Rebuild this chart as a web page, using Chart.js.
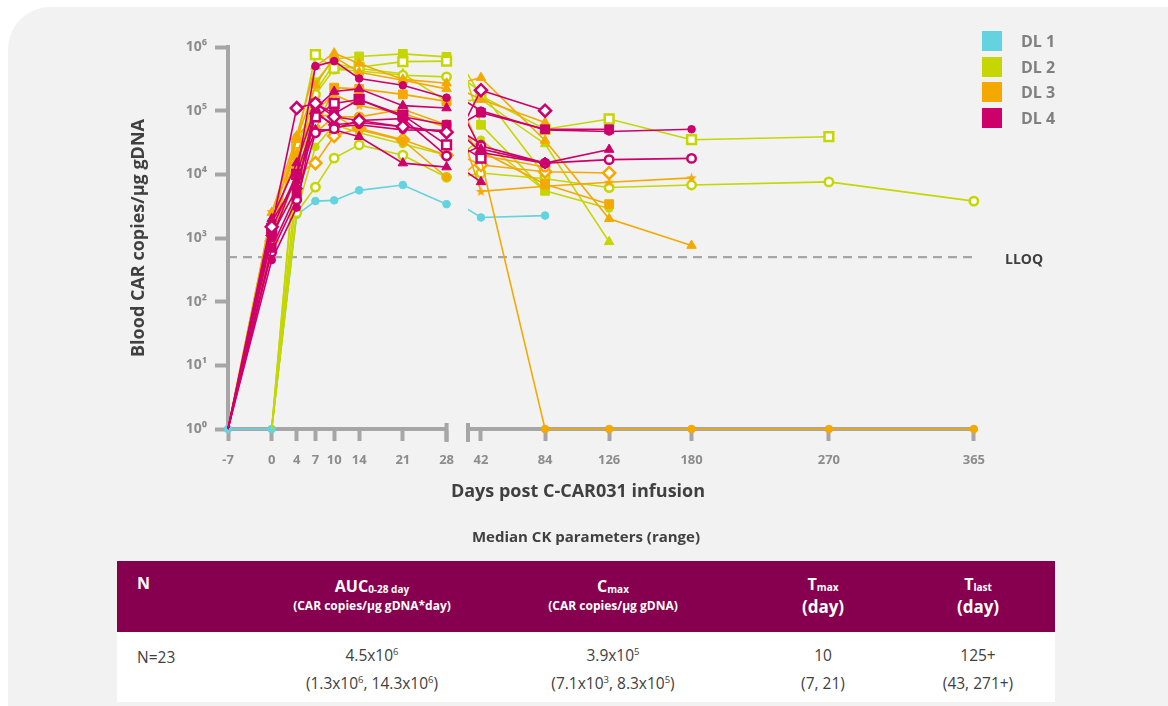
<!DOCTYPE html>
<html>
<head>
<meta charset="utf-8">
<script src="https://cdn.jsdelivr.net/npm/chart.js@4.4.1/dist/chart.umd.min.js"></script>
<style>
html,body{margin:0;padding:0;background:#fff;width:1168px;height:706px;overflow:hidden;font-family:'Open Sans',sans-serif}
#panel{position:absolute;left:8px;top:7px;width:1200px;height:720px;background:#f2f2f2;border-top-left-radius:42px}
#cL{position:absolute;left:0;top:0}
#cR{position:absolute;left:458px;top:0}
#legend{position:absolute;left:982px;top:28px}
#legend .row{height:25.7px;display:flex;align-items:center;font-weight:700;font-size:16px;color:#808080}
#legend .sw{display:inline-block;width:20px;height:20px;margin-right:19px}
#lloq{position:absolute;left:1005px;top:249px;font-weight:700;font-size:14px;color:#404040}
#xtitle{position:absolute;left:578px;top:478px;transform:translateX(-50%);font-weight:700;font-size:18px;color:#404040;white-space:nowrap}
#ttitle{position:absolute;left:586px;top:526px;transform:translateX(-50%);font-weight:700;font-size:15px;color:#404040;white-space:nowrap}
#tbl{position:absolute;left:117px;top:561px;width:938px;height:141px}
#tbl .hd{position:absolute;left:0;top:0;width:938px;height:71px;background:#86004f}
#tbl .bd{position:absolute;left:0;top:71px;width:938px;height:70px;background:#fff}
.col{position:absolute;transform:translateX(-50%);text-align:center;white-space:nowrap}
.h1{color:#fff;font-weight:700;font-size:16px;line-height:21px}
.h2{color:#fff;font-weight:700;font-size:12px;line-height:18px}
.h3{color:#fff;font-weight:700;font-size:17px;line-height:24px}
.b{color:#404040;font-size:15.5px;line-height:28px}
sub{font-size:10px;vertical-align:-1px;line-height:0}
sup{font-size:9.5px;vertical-align:6px;line-height:0}
</style>
</head>
<body>
<div id="panel"></div>
<canvas id="cL" width="465" height="480"></canvas>
<canvas id="cR" width="538" height="480"></canvas>
<div id="legend"></div>
<div id="lloq">LLOQ</div>
<div id="xtitle">Days post C-CAR031 infusion</div>
<div id="ttitle">Median CK parameters (range)</div>
<div id="tbl">
  <div class="hd"></div>
  <div class="bd"></div>
  <div class="h1" style="position:absolute;left:20px;top:12px">N</div>
  <div class="col" style="left:255px;top:15px"><div class="h1">AUC<sub>0-28 day</sub></div><div class="h2">(CAR copies/µg gDNA*day)</div></div>
  <div class="col" style="left:496px;top:15px"><div class="h1">C<sub>max</sub></div><div class="h2">(CAR copies/µg gDNA)</div></div>
  <div class="col" style="left:706px;top:13px"><div class="h1">T<sub>max</sub></div><div class="h3">(day)</div></div>
  <div class="col" style="left:861px;top:13px"><div class="h1">T<sub>last</sub></div><div class="h3">(day)</div></div>
  <div class="b" style="position:absolute;left:20px;top:82px">N=23</div>
  <div class="col" style="left:255px;top:80px"><div class="b">4.5x10<sup>6</sup></div><div class="b">(1.3x10<sup>6</sup>, 14.3x10<sup>6</sup>)</div></div>
  <div class="col" style="left:496px;top:80px"><div class="b">3.9x10<sup>5</sup></div><div class="b">(7.1x10<sup>3</sup>, 8.3x10<sup>5</sup>)</div></div>
  <div class="col" style="left:706px;top:80px"><div class="b">10</div><div class="b">(7, 21)</div></div>
  <div class="col" style="left:861px;top:80px"><div class="b">125+</div><div class="b">(43, 271+)</div></div>
</div>
<script>
'use strict';

// ── data ───────────────────────────────────────────────────────────────────
const DAYS = [-7, 0, 4, 7, 10, 14, 21, 28, 42, 84, 126, 180, 270, 365];
const LEFT_TICKS = [-7, 0, 4, 7, 10, 14, 21, 28];
const RIGHT_TICKS = [42, 84, 126, 180, 270, 365];
const Y_TICKS = [1, 10, 100, 1000, 10000, 100000, 1000000];
const Y_LABELS = ['10⁰', '10¹', '10²', '10³', '10⁴', '10⁵', '10⁶'];
const LLOQ = 500;
const DL_NAMES = ['DL 1', 'DL 2', 'DL 3', 'DL 4'];
const DL_COLORS = ['#63d3df', '#c5d600', '#f4a900', '#cd006b'];

// one row per patient, one value per entry of DAYS (null = no sample)
const dl1Values = [
  [1, 1, 2300, 3800, 3900, 5600, 6800, 3400, 2100, 2250, null, null, null, null]
];
const dl1Markers = ['circle'];

const dl2Values = [
  [null, 1, 30000, 760000, 460000, 480000, 590000, 600000, 170000, 51000, 74000, 35000, 39000, null],
  [null, 1, 9000, 280000, 650000, 710000, 780000, 700000, 60000, 5500, null, null, null, null],
  [null, 1, 25000, 180000, 450000, 420000, 360000, 340000, 200000, 9500, null, null, null, null],
  [null, 1, 2500, 6300, 18000, 29000, 20000, 9000, 10500, 8500, 6200, 6800, 7600, 3800],
  [null, 1, 2600, 27000, 60000, 45000, 30000, 20000, 35000, 5500, 2900, null, null, null],
  [null, 1, 5000, 200000, 550000, 460000, 380000, 140000, 150000, 30000, 870, null, null, null]
];
const dl2Markers = ['rectOpen', 'rect', 'circleOpen', 'circleOpen', 'circle', 'triangle'];

const dl3Values = [
  [1, 2500, 40000, 500000, 800000, 550000, 310000, 270000, 330000, 34000, 2000, 760, null, null],
  [1, 1500, 20000, 50000, 230000, 220000, 180000, 140000, 23000, 7000, 3400, null, null, null],
  [1, 2600, 22000, 100000, 180000, 120000, 90000, 55000, 5400, 6500, 7500, 8800, null, null],
  [1, 800, 39000, 82000, 85000, 50000, 34000, 9000, 17000, 1, 1, 1, 1, 1],
  [1, 1200, 10000, 45000, 80000, 80000, 105000, 60000, 20000, 13000, null, null, null, null],
  [1, 900, 10000, 15000, 40000, 53000, 35000, 20000, 14000, 11000, 10500, null, null, null],
  [1, 1800, 35000, 250000, 700000, 400000, 300000, 220000, 150000, 65000, null, null, null, null]
];
const dl3Markers = ['triangle', 'rect', 'star', 'circle', 'circleOpen', 'diamondOpen', 'triangle'];

const dl4Values = [
  [1, 1500, 110000, 130000, 80000, 70000, 56000, 46000, 210000, 100000, null, null, null, null],
  [1, 1000, 10000, 500000, 600000, 320000, 250000, 160000, 100000, 50000, 47000, 51000, null, null],
  [1, 700, 5000, 130000, 90000, 150000, 80000, 60000, 93000, 51000, 51000, null, null, null],
  [1, 2000, 15000, 110000, 200000, 220000, 120000, 110000, 25000, 15000, 24500, null, null, null],
  [1, 1400, 10000, 80000, 130000, 150000, 85000, 29000, 18000, null, null, null, null, null],
  [1, 600, 4000, 45000, 52000, 70000, 75000, 19500, 28000, 15000, 17000, 17800, null, null],
  [1, 1100, 6000, 90000, 60000, 65000, 56000, 46000, 22000, 15000, null, null, null, null],
  [1, 1800, 8000, 50000, 50000, 39000, 15000, 13000, 7600, null, null, null, null, null],
  [1, 450, 3000, 100000, 55000, 60000, 50000, 49000, 30000, null, null, null, null, null]
];
const dl4Markers = ['diamondOpen', 'circle', 'rect', 'triangle', 'rectOpen', 'circleOpen', 'diamond', 'triangle', 'circle'];

// ── look ───────────────────────────────────────────────────────────────────
const AXIS = '#a6a6a6', TICK = '#8c8c8c', DARK = '#404040';
const LEFT_MIN = -7, LEFT_MAX = 28, RIGHT_MIN = 33.5, RIGHT_MAX = 365;
Chart.defaults.font.family = "'Open Sans', sans-serif";

function starImg(color){
  const c = document.createElement('canvas'); c.width = 11; c.height = 11;
  const g = c.getContext('2d'); g.fillStyle = color; g.beginPath();
  for (let i = 0; i < 10; i++){
    const r = i % 2 ? 2.3 : 5.5, a = -Math.PI/2 + i*Math.PI/5;
    g.lineTo(5.5 + r*Math.cos(a), 5.8 + r*Math.sin(a));
  }
  g.closePath(); g.fill();
  return c;
}

function markerStyle(kind, color){
  const filled = {pointBackgroundColor: color, pointBorderColor: color, pointBorderWidth: 1};
  const open = {pointBackgroundColor: '#ffffff', pointBorderColor: color, pointBorderWidth: 2.5};
  switch (kind){
    case 'circle':      return {pointStyle: 'circle', pointRadius: 3.8, ...filled};
    case 'circleOpen':  return {pointStyle: 'circle', pointRadius: 4.2, ...open};
    case 'rect':        return {pointStyle: 'rect', pointRadius: 6.2, ...filled};
    case 'rectOpen':    return {pointStyle: 'rect', pointRadius: 6.2, ...open};
    case 'triangle':    return {pointStyle: 'triangle', pointRadius: 5.5, ...filled};
    case 'diamond':     return {pointStyle: 'rectRot', pointRadius: 6, ...filled};
    case 'diamondOpen': return {pointStyle: 'rectRot', pointRadius: 6, ...open};
    case 'star':        return {pointStyle: starImg(color), pointRadius: 5.5, ...filled};
  }
}

function seriesPoints(vals, keep){
  return DAYS.map((d, i) => ({x: d, y: vals[i]})).filter(p => p.y != null && keep(p.x));
}

function buildDatasets(keep, lloqFrom, lloqTo, clip){
  const groups = [[dl4Values, dl4Markers, 3], [dl3Values, dl3Markers, 2], [dl2Values, dl2Markers, 1], [dl1Values, dl1Markers, 0]];
  const sets = [];
  groups.forEach(([vals, marks, dl]) => {
    vals.forEach((v, i) => {
      const st = markerStyle(marks[i], DL_COLORS[dl]);
      const r = st.pointRadius;
      // pre-dose baseline points (1 copy) only carry a marker for DL 1
      st.pointRadius = c => (dl > 0 && c.raw && c.raw.x <= 0 && c.raw.y === 1) ? 0 : r;
      sets.push({data: seriesPoints(v, keep), borderColor: DL_COLORS[dl], borderWidth: 1.6,
        tension: 0, clip, ...st});
    });
  });
  sets.push({data: [{x: lloqFrom, y: LLOQ}, {x: lloqTo, y: LLOQ}], borderColor: '#a6a6a6',
    borderWidth: 2.2, borderDash: [9, 6], pointRadius: 0, clip: false});
  return sets;
}

const breakMark = {
  id: 'breakMark',
  afterDraw(chart, args, opts){
    const {ctx, chartArea} = chart;
    const x = opts.side === 'right' ? chartArea.right : chartArea.left;
    ctx.save(); ctx.strokeStyle = AXIS; ctx.lineWidth = 4;
    ctx.beginPath(); ctx.moveTo(x, chartArea.bottom - 6); ctx.lineTo(x, chartArea.bottom + 13); ctx.stroke();
    ctx.restore();
  }
};

function xScale(min, max, ticks){
  return {type: 'linear', min, max,
    afterBuildTicks: s => { s.ticks = ticks.map(v => ({value: v})); },
    afterFit: s => { s.height = 51; },
    grid: {drawOnChartArea: false, tickLength: 12, tickWidth: 4, tickColor: AXIS},
    border: {width: 4, color: AXIS},
    ticks: {color: TICK, font: {size: 13, weight: 'bold'}, padding: 11, autoSkip: false, maxRotation: 0}};
}

function yScale(show){
  return {type: 'logarithmic', min: 1, max: 1000000, display: show,
    afterBuildTicks: s => { s.ticks = Y_TICKS.map(v => ({value: v})); },
    afterFit: s => { if (show) s.width = 104; },
    grid: {drawOnChartArea: false, tickLength: 13, tickWidth: 4, tickColor: AXIS},
    border: {width: 4, color: AXIS},
    ticks: {color: TICK, font: {size: 14, weight: 'bold'}, padding: 8, autoSkip: false,
      callback: v => Y_LABELS[Math.round(Math.log10(v))]},
    title: {display: true, text: 'Blood CAR copies/µg gDNA', color: DARK, font: {size: 18, weight: 'bold'}, padding: {top: 4, bottom: 0}}};
}

const common = {responsive: false, animation: false, events: [],
  plugins: {legend: {display: false}, tooltip: {enabled: false}}};

new Chart(document.getElementById('cL'), {
  type: 'line',
  data: {datasets: buildDatasets(d => d <= LEFT_MAX, LEFT_MIN, LEFT_MAX, false)},
  options: {...common, layout: {padding: {left: 124, top: 47, right: 14, bottom: 0}},
    plugins: {...common.plugins, breakMark: {side: 'right'}},
    scales: {x: xScale(LEFT_MIN, LEFT_MAX, LEFT_TICKS), y: yScale(true)}},
  plugins: [breakMark]
});

new Chart(document.getElementById('cR'), {
  type: 'line',
  data: {datasets: buildDatasets(d => d >= LEFT_MAX, RIGHT_MIN, RIGHT_MAX, {left: 0, top: false, right: false, bottom: false})},
  options: {...common, layout: {padding: {left: 10, top: 47, right: 20, bottom: 0}},
    plugins: {...common.plugins, breakMark: {side: 'left'}},
    scales: {x: xScale(RIGHT_MIN, RIGHT_MAX, RIGHT_TICKS), y: yScale(false)}},
  plugins: [breakMark]
});

// legend
const leg = document.getElementById('legend');
DL_NAMES.forEach((n, i) => {
  const r = document.createElement('div'); r.className = 'row';
  r.innerHTML = `<span class="sw" style="background:${DL_COLORS[i]}"></span>${n}`;
  leg.appendChild(r);
});
</script>
</body>
</html>
